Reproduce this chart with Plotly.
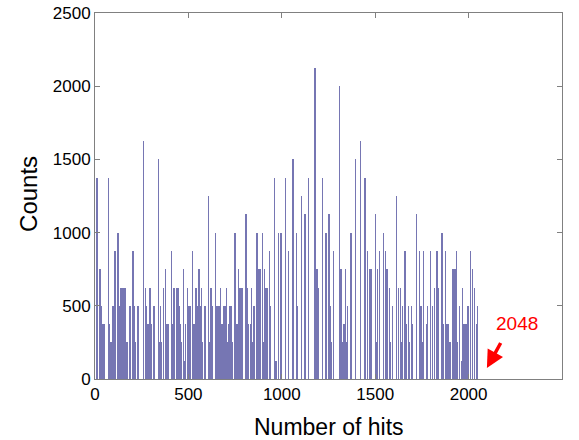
import plotly.graph_objects as go

# Number of hits (bin position) and counts
hits = [10, 27, 35, 43, 48, 73, 78, 83, 89, 97, 108, 124, 132, 140, 145, 151, 156, 161, 169, 175,
        183, 191, 203, 210, 215, 226, 231, 260, 269, 277, 282, 288, 294, 301, 312, 320, 339, 344, 349, 357,
        366, 376, 382, 387, 392, 409, 414, 422, 435, 444, 452, 457, 462, 473, 478, 484, 496, 503, 511, 521,
        527, 535, 541, 546, 551, 557, 564, 570, 575, 589, 606, 616, 621, 629, 645, 650, 659, 667, 672, 680,
        688, 696, 704, 710, 716, 723, 728, 734, 750, 758, 763, 769, 774, 780, 785, 790, 809, 817, 823, 831,
        839, 844, 852, 868, 874, 879, 884, 895, 900, 909, 914, 919, 925, 935, 941, 962, 968, 984, 995, 1021,
        1035, 1059, 1078, 1083, 1105, 1124, 1142, 1177, 1188, 1194, 1217, 1236, 1253, 1258, 1263, 1278, 1309, 1317, 1323, 1333,
        1340, 1347, 1352, 1371, 1395, 1422, 1446, 1460, 1470, 1478, 1500, 1505, 1513, 1524, 1543, 1554, 1564, 1575, 1583, 1591,
        1614, 1624, 1634, 1640, 1645, 1660, 1669, 1679, 1685, 1693, 1701, 1720, 1736, 1745, 1750, 1758, 1774, 1780, 1796, 1806,
        1819, 1831, 1839, 1857, 1863, 1876, 1885, 1894, 1900, 1917, 1927, 1935, 1941, 1952, 1961, 1969, 1976, 1981, 1987, 1997,
        2011, 2021, 2032, 2042, 2048]
counts = [1375, 750, 500, 375, 375, 1375, 375, 250, 250, 500, 875, 1000, 500, 625, 625, 125, 625, 625, 250, 250,
          500, 500, 875, 500, 250, 500, 500, 1625, 625, 500, 375, 375, 625, 375, 500, 500, 1500, 250, 500, 250,
          625, 750, 375, 375, 375, 875, 375, 625, 625, 625, 500, 375, 250, 750, 125, 375, 625, 500, 500, 875,
          375, 375, 625, 500, 500, 750, 500, 625, 250, 500, 1250, 250, 625, 500, 1000, 500, 500, 500, 625, 375,
          500, 500, 625, 250, 375, 500, 500, 250, 1000, 375, 375, 750, 625, 625, 625, 625, 1125, 625, 375, 375,
          625, 250, 500, 1000, 750, 750, 750, 1000, 250, 750, 625, 625, 625, 875, 500, 1375, 125, 1000, 1000, 1375,
          875, 1500, 1000, 500, 1250, 1125, 1375, 2125, 750, 625, 1375, 1000, 1125, 500, 250, 875, 2000, 750, 250, 375,
          750, 250, 500, 1000, 1500, 1625, 1375, 875, 750, 750, 1125, 250, 750, 875, 1000, 875, 750, 625, 250, 500,
          1250, 625, 625, 250, 500, 875, 375, 500, 250, 500, 375, 1125, 875, 500, 250, 875, 375, 500, 875, 500,
          625, 875, 625, 1000, 375, 875, 375, 375, 250, 750, 750, 875, 250, 500, 125, 625, 375, 375, 375, 500,
          875, 750, 625, 375, 500]

tick_vals = [0, 500, 1000, 1500, 2000, 2500]
marker_label = "2048"

FONT = "Arial, 'Liberation Sans', sans-serif"
GRAY = "#808080"

fig = go.Figure()
fig.add_trace(go.Bar(
    x=hits, y=counts, width=2,
    marker=dict(color="#7676b3", line=dict(width=0)),
    showlegend=False,
))

axis_common = dict(
    range=[0, 2500], tickvals=tick_vals, ticktext=[str(v) for v in tick_vals],
    showline=True, linecolor=GRAY, linewidth=1, mirror="ticks",
    ticks="inside", ticklen=5, tickcolor=GRAY, tickwidth=1,
    showgrid=False, zeroline=False, automargin=False,
    tickfont=dict(family=FONT, size=17, color="black"),
)
fig.update_xaxes(**axis_common)
fig.update_yaxes(**axis_common)

fig.add_annotation(text="Counts", xref="paper", yref="paper", x=-0.144, y=0.505,
                   xanchor="center", yanchor="middle",
                   textangle=-90, showarrow=False,
                   font=dict(family=FONT, size=24, color="black"))
fig.add_annotation(text="Number of hits", xref="paper", yref="paper", x=0.5, y=-0.131,
                   xanchor="center", yanchor="middle",
                   showarrow=False, font=dict(family=FONT, size=23, color="black"))

# arrow pointing at the last bin
fig.add_annotation(x=2098, y=75, ax=2176, ay=256, xref="x", yref="y", axref="x", ayref="y",
                   text="", showarrow=True, arrowhead=2, arrowsize=1.0, arrowwidth=3.5,
                   arrowcolor="red")
fig.add_annotation(x=2261, y=382, xref="x", yref="y", text=marker_label, showarrow=False,
                   xanchor="center", yanchor="middle",
                   font=dict(family=FONT, size=19, color="red"))

fig.update_layout(
    width=579, height=440,
    margin=dict(l=95.3, r=16.7, t=12.7, b=60.7),
    paper_bgcolor="white", plot_bgcolor="white",
    bargap=0,
)
fig.write_html("out.html")
